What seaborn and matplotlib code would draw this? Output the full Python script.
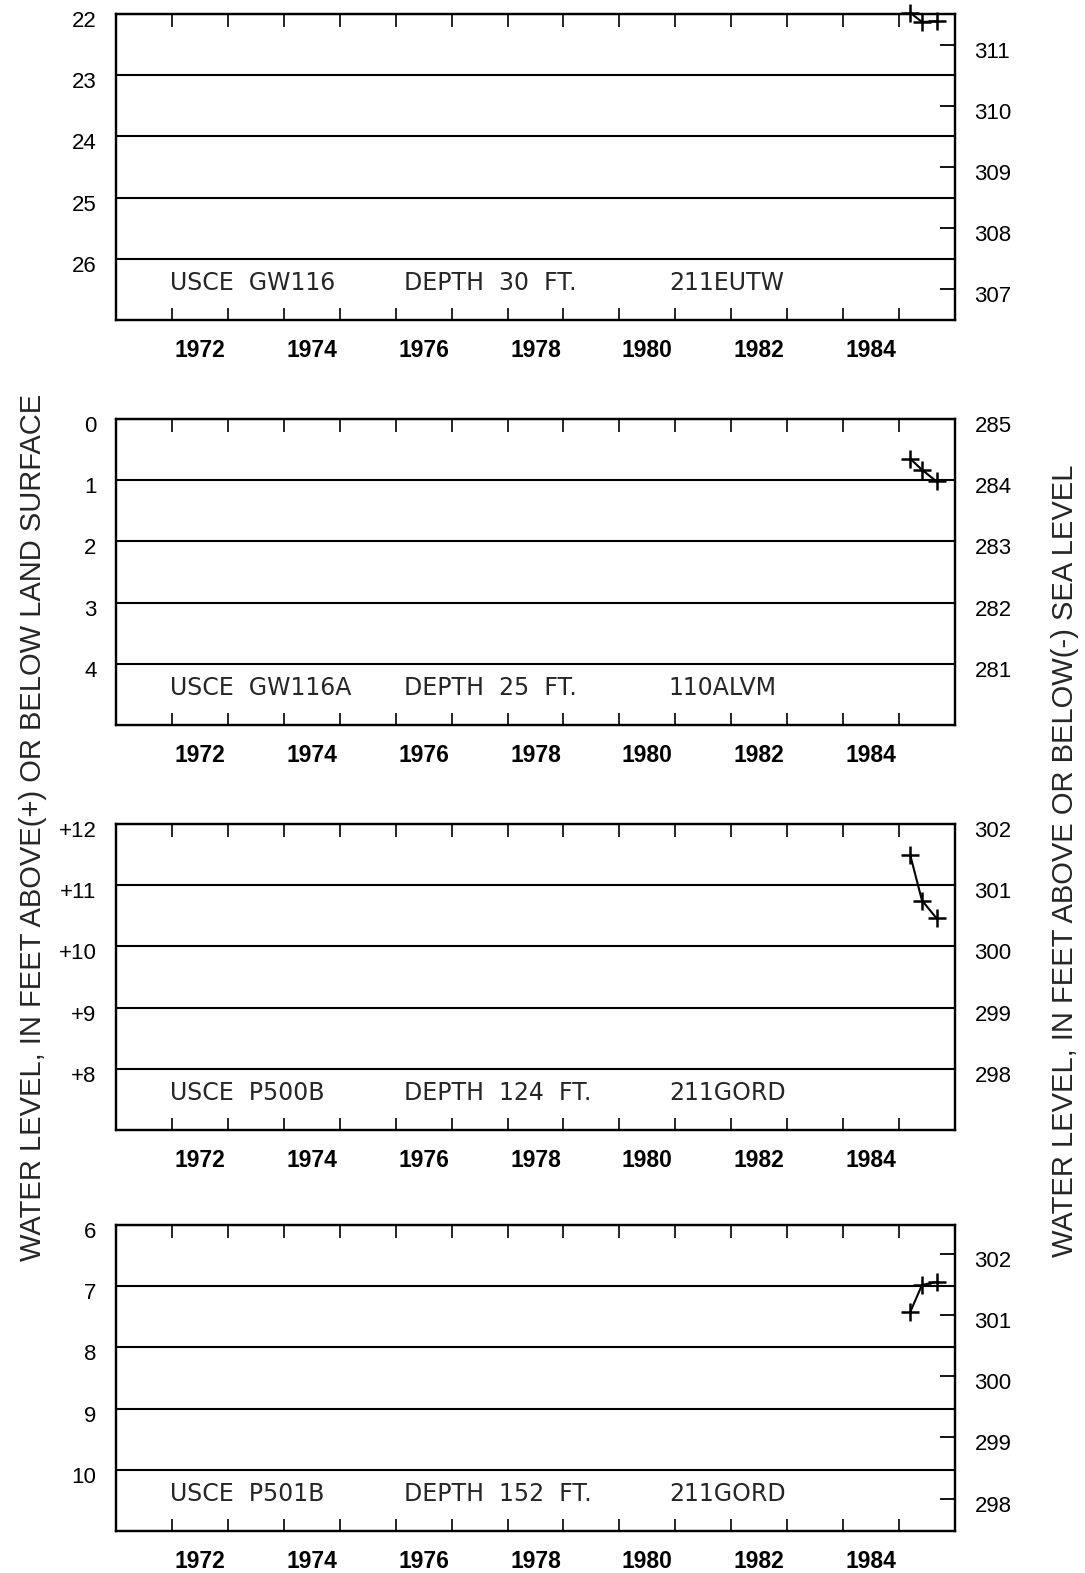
import pandas as pd
import seaborn as sns
import matplotlib.pyplot as plt
from matplotlib.transforms import ScaledTranslation

# Estilo
sns.set_style("ticks")
plt.rcParams["font.family"] = ["Liberation Sans", "DejaVu Sans"]
plt.rcParams["axes.edgecolor"] = "black"

datas = [1985.20, 1985.41, 1985.67]

pocos = ["USCE  GW116", "USCE  GW116A", "USCE  P500B", "USCE  P501B"]
profundidades = ["DEPTH  30  FT.", "DEPTH  25  FT.", "DEPTH  124  FT.", "DEPTH  152  FT."]
aquiferos = ["211EUTW", "110ALVM", "211GORD", "211GORD"]

nivel_gw116 = [21.98, 22.13, 22.12]
nivel_gw116a = [0.65, 0.83, 1.02]
nivel_p500b = [11.49, 10.75, 10.46]
nivel_p501b = [7.42, 6.98, 6.93]
niveis = [nivel_gw116, nivel_gw116a, nivel_p500b, nivel_p501b]

# Eixo esquerdo: valor no topo de cada painel e rotulos
topo_esq = [22, 0, 12, 6]
sentido = [1, 1, -1, 1]  # 1 = abaixo da superficie (eixo invertido)
rotulos_esq = [
    ["22", "23", "24", "25", "26"],
    ["0", "1", "2", "3", "4"],
    ["+12", "+11", "+10", "+9", "+8"],
    ["6", "7", "8", "9", "10"],
]

# Eixo direito: cota da superficie do terreno e rotulos
cota_terreno = [333.5, 285.0, 290.0, 308.47]
cotas_dir = [
    [311, 310, 309, 308, 307],
    [285, 284, 283, 282, 281],
    [302, 301, 300, 299, 298],
    [302, 301, 300, 299, 298],
]

anos_rotulo = [1972, 1974, 1976, 1978, 1980, 1982, 1984]

W, H = 1085, 1573
topos_px = [14, 419, 824, 1225]
altura_px = 306

fig = plt.figure(figsize=(W / 100, H / 100), dpi=100)
desloca = ScaledTranslation(0, -5 / 100, fig.dpi_scale_trans)

for i in range(4):
    ax = fig.add_axes([116 / W, 1 - (topos_px[i] + altura_px) / H, 839 / W, altura_px / H])
    df = pd.DataFrame({"Ano": datas, "Nivel": niveis[i]})
    sns.lineplot(x="Ano", y="Nivel", data=df, ax=ax, color="black", lw=1.5,
                 marker="+", markersize=13, markeredgewidth=1.8,
                 markeredgecolor="black", clip_on=False, zorder=5)
    ax.set_xlabel("")
    ax.set_ylabel("")

    t = topo_esq[i]
    s = sentido[i]
    if s == 1:
        ax.set_ylim(t + 5, t)
    else:
        ax.set_ylim(t - 5, t)
    ax.set_yticks([t + s * k for k in range(5)], rotulos_esq[i])
    ax.grid(axis="y", color="black", lw=1.5)
    ax.grid(axis="x", visible=False)
    ax.tick_params(axis="y", length=0, pad=14, labelsize=16, colors="black")

    ax.set_xlim(1971, 1986)
    ax.set_xticks(range(1972, 1986), [""] * 14)
    ax.set_xticks([a + 0.5 for a in anos_rotulo], [str(a) for a in anos_rotulo],
                  minor=True, fontweight="bold")
    ax.tick_params(axis="x", which="major", direction="in", length=9, width=1.2,
                   top=True, bottom=True, color="black")
    ax.tick_params(axis="x", which="minor", length=0, pad=14, labelsize=16.5,
                   labelcolor="black")

    for sp in ax.spines.values():
        sp.set_visible(True)
        sp.set_linewidth(1.6)
        sp.set_color("black")

    ax2 = ax.twinx()
    y0, y1 = ax.get_ylim()
    ax2.set_ylim(cota_terreno[i] - s * y0, cota_terreno[i] - s * y1)
    ax2.set_yticks(cotas_dir[i], [str(c) for c in cotas_dir[i]])
    ax2.tick_params(axis="y", direction="in", length=11, width=1.3, pad=14,
                    labelsize=16, colors="black")
    for sp in ax2.spines.values():
        sp.set_linewidth(1.6)
        sp.set_color("black")

    ax.text(0.064, 0.12, pocos[i], transform=ax.transAxes, fontsize=17,
            va="center", family="DejaVu Sans")
    ax.text(0.343, 0.12, profundidades[i], transform=ax.transAxes, fontsize=17,
            va="center", family="DejaVu Sans")
    ax.text(0.659, 0.12, aquiferos[i], transform=ax.transAxes, fontsize=17,
            va="center", family="DejaVu Sans")

    for lbl in ax.get_yticklabels() + ax2.get_yticklabels():
        lbl.set_transform(lbl.get_transform() + desloca)

fig.text(33 / W, 1 - 827 / H, "WATER LEVEL, IN FEET ABOVE(+) OR BELOW LAND SURFACE",
         rotation=90, ha="center", va="center", fontsize=21)
fig.text(1065 / W, 1 - 861 / H, "WATER LEVEL, IN FEET ABOVE OR BELOW(-) SEA LEVEL",
         rotation=90, ha="center", va="center", fontsize=21)

fig.savefig("out.png", dpi=100)
